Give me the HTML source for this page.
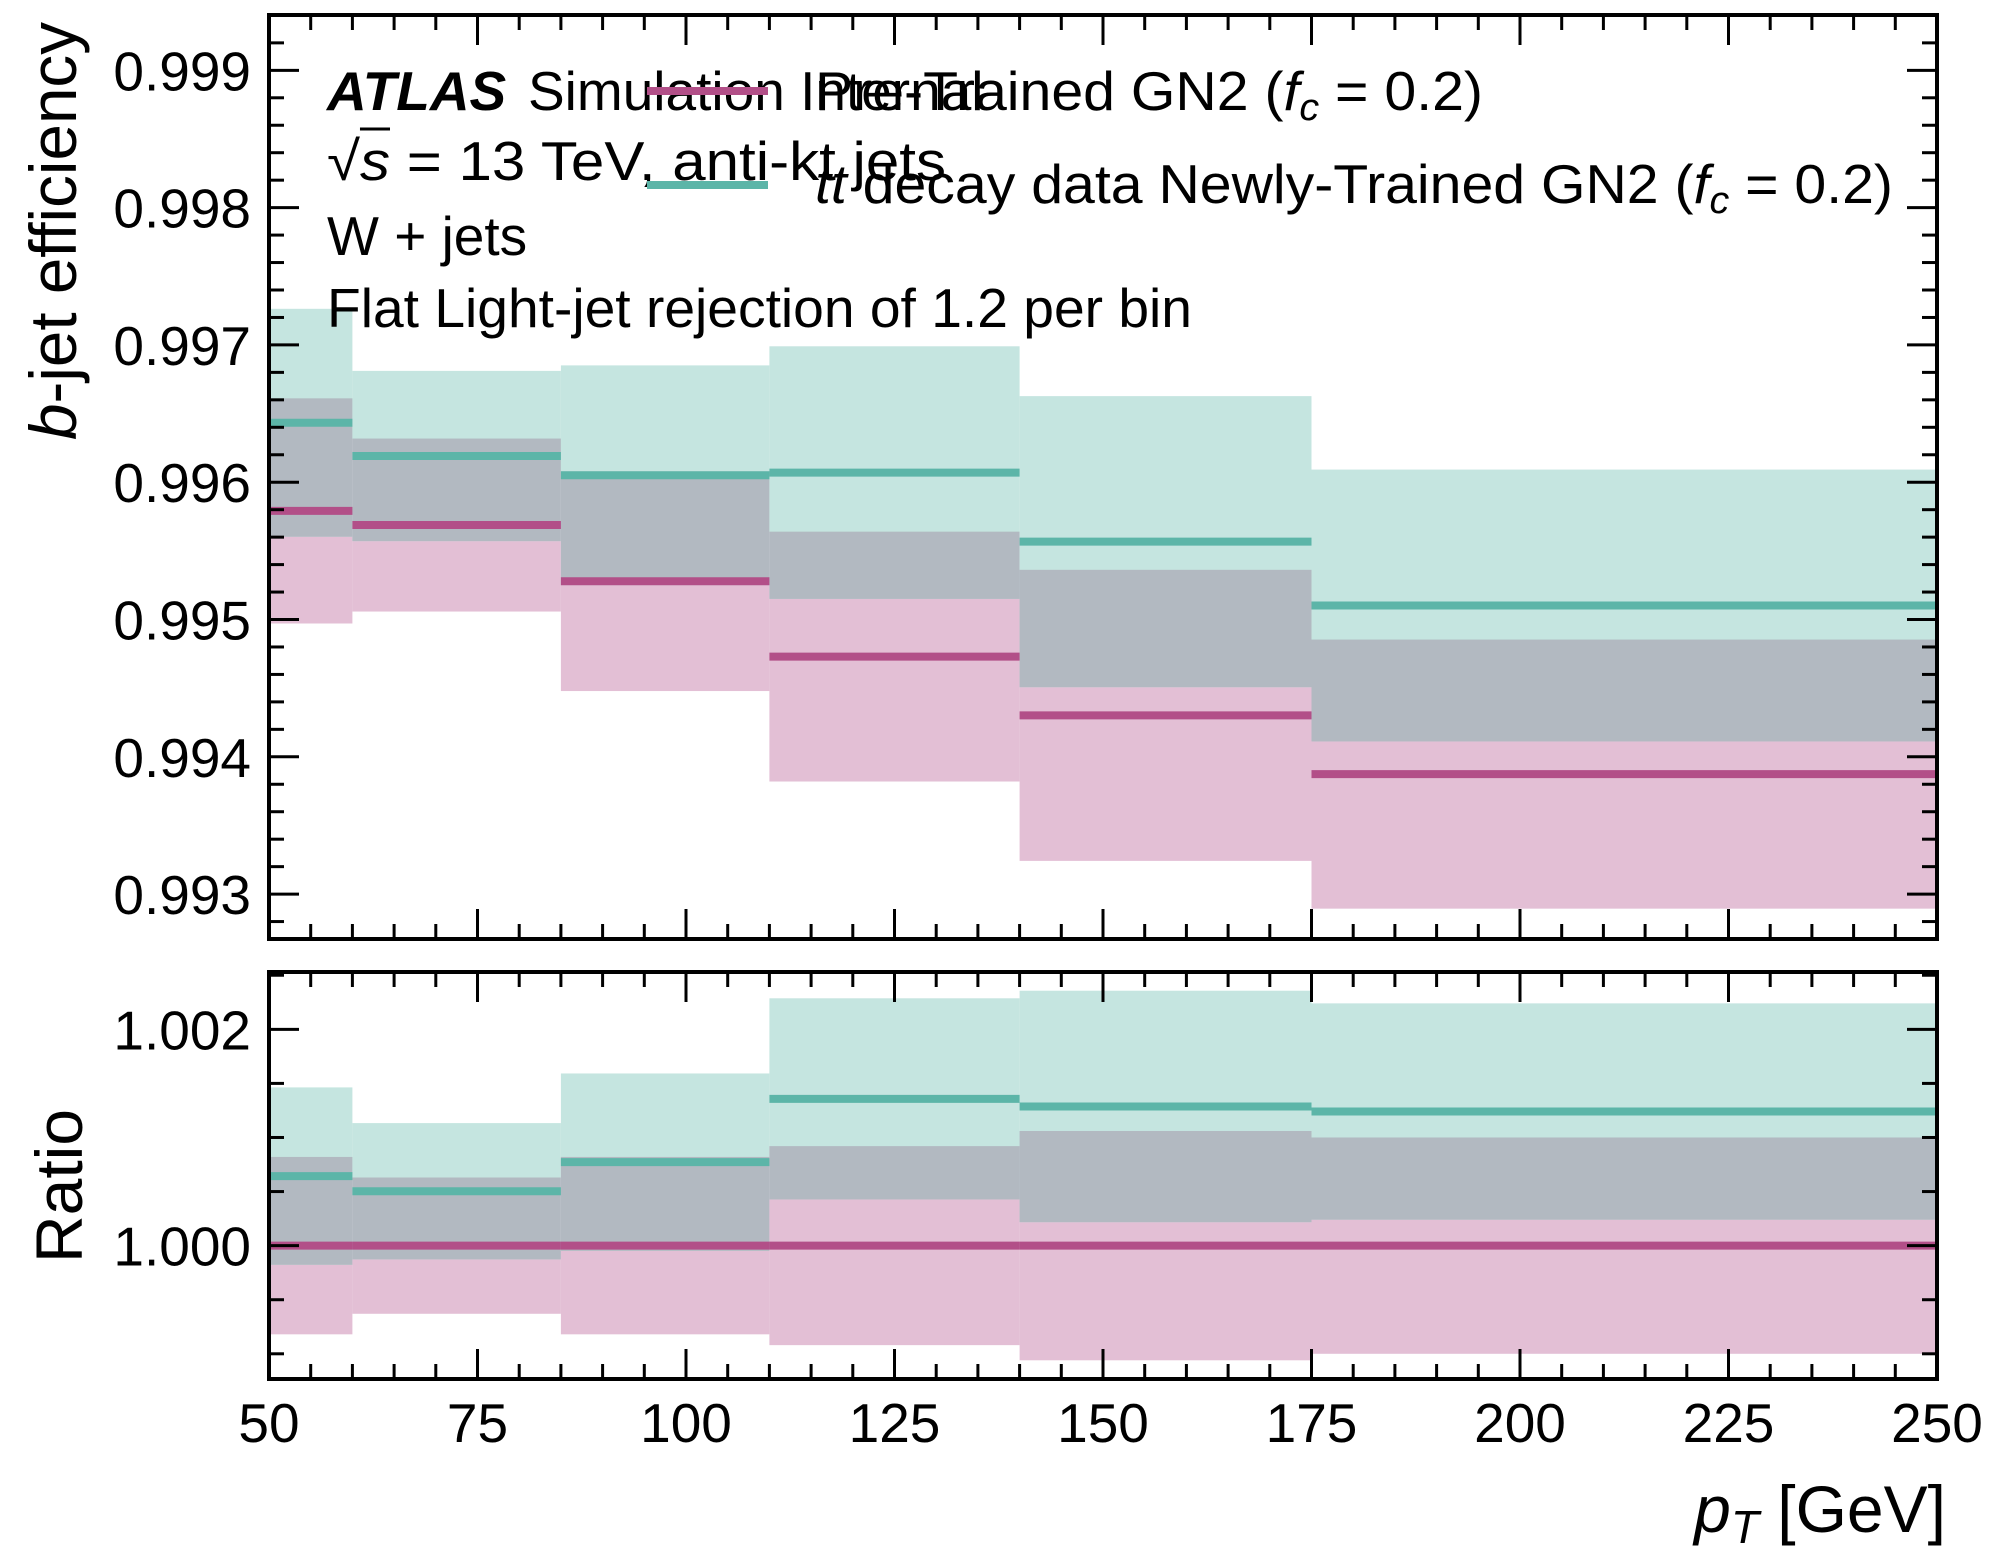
<!DOCTYPE html>
<html><head><meta charset="utf-8"><style>
html,body{margin:0;padding:0;background:#fff;}
svg{display:block;font-family:"Liberation Sans",sans-serif;}
</style></head><body>
<svg id="chart" width="2000" height="1560" viewBox="0 0 2000 1560">
<g id="top-bands"></g>
<g id="ratio-bands"></g>
<g id="axes"></g>
<g font-size="55">
<text x="327" y="110" font-weight="bold" font-style="italic">ATLAS</text>
<text x="528" y="110">Simulation Internal</text>
<text x="327" y="180" textLength="619" lengthAdjust="spacingAndGlyphs">√<tspan font-style="italic" text-decoration="overline">s</tspan> = 13 TeV, anti-kt jets</text>
<text x="327" y="255">W + jets</text>
<text x="327" y="327" textLength="865" lengthAdjust="spacingAndGlyphs">Flat Light-jet rejection of 1.2 per bin</text>
</g>
<g font-size="55">
<line x1="647" x2="768" y1="91" y2="91" stroke="#b24f88" stroke-width="8"/>
<text x="815" y="110" textLength="668" lengthAdjust="spacingAndGlyphs">Pre-Trained GN2 (<tspan font-style="italic">f<tspan font-size="38" dy="10">c</tspan></tspan><tspan dy="-10"> = 0.2)</tspan></text>
<line x1="647" x2="768" y1="185" y2="185" stroke="#5cb5a8" stroke-width="8"/>
<text x="815" y="203" textLength="1078" lengthAdjust="spacingAndGlyphs"><tspan font-style="italic">tt</tspan> decay data Newly-Trained GN2 (<tspan font-style="italic">f<tspan font-size="38" dy="10">c</tspan></tspan><tspan dy="-10"> = 0.2)</tspan></text>
</g>
<text transform="translate(76,22) rotate(-90)" text-anchor="end" font-size="66" textLength="418" lengthAdjust="spacingAndGlyphs"><tspan font-style="italic">b</tspan>-jet efficiency</text>
<text transform="translate(82,1186) rotate(-90)" text-anchor="middle" font-size="66">Ratio</text>
<text x="1946" y="1532" text-anchor="end" font-size="66"><tspan font-style="italic">p<tspan font-size="46" dy="11">T</tspan></tspan><tspan dy="-11"> [GeV]</tspan></text>
</svg>
<script>
const binEdges = [50, 60, 85, 110, 140, 175, 250];
const preEff = [0.995791, 0.995688, 0.995279, 0.994730, 0.994302, 0.993874];
const preErr = [0.00082, 0.00063, 0.00080, 0.00091, 0.00106, 0.00098];
const newEff = [0.996433, 0.996191, 0.996051, 0.996070, 0.995567, 0.995102];
const newErr = [0.00083, 0.00062, 0.00080, 0.00092, 0.00106, 0.00099];
const preRatio = [1.0, 1.0, 1.0, 1.0, 1.0, 1.0];
const preRatioErr = [0.00082, 0.00063, 0.00082, 0.00092, 0.00106, 0.00100];
const newRatio = [1.000643, 1.000503, 1.000772, 1.001357, 1.001287, 1.001240];
const newRatioErr = [0.00082, 0.00063, 0.00082, 0.00093, 0.00107, 0.00100];
const xTicks = [50, 75, 100, 125, 150, 175, 200, 225, 250];
const yTicksTop = [0.993, 0.994, 0.995, 0.996, 0.997, 0.998, 0.999];
const yTicksRatio = [1.000, 1.002];

const NS = "http://www.w3.org/2000/svg";
const L = 269, R = 1937;
const TOP = {t: 15, b: 939, min: 0.992673, max: 0.999403};
const RAT = {t: 972, b: 1379, min: 0.998767, max: 1.00253};
function x(v){ return L + (v - 50) / 200 * (R - L); }
function yP(p, v){ return p.b - (v - p.min) / (p.max - p.min) * (p.b - p.t); }
function mk(tag, attrs, parent){
  const e = document.createElementNS(NS, tag);
  for (const k in attrs) e.setAttribute(k, attrs[k]);
  parent.appendChild(e); return e;
}
const C = {pinkBand:"#e3bfd5", tealBand:"#c5e5e0", grey:"#b2b9c1", pink:"#b24f88", teal:"#5cb5a8"};

function drawPanel(p, g, pv, pe, nv, ne, tag){
  for (let i = 0; i < pv.length; i++){
    const x0 = x(binEdges[i]), x1 = x(binEdges[i+1]);
    const pu = Math.min(pv[i]+pe[i], p.max), pl = Math.max(pv[i]-pe[i], p.min);
    const nu = Math.min(nv[i]+ne[i], p.max), nl = Math.max(nv[i]-ne[i], p.min);
    let r = mk("rect", {x:x0, width:x1-x0, y:yP(p,pu), height:yP(p,pl)-yP(p,pu), fill:C.pinkBand}, g);
    
    
    r = mk("rect", {x:x0, width:x1-x0, y:yP(p,nu), height:yP(p,nl)-yP(p,nu), fill:C.tealBand}, g);
    
    
    const ou = Math.min(pu, nu), ol = Math.max(pl, nl);
    if (ou > ol){
      r = mk("rect", {x:x0, width:x1-x0, y:yP(p,ou), height:yP(p,ol)-yP(p,ou), fill:C.grey}, g);
      
      
    }
  }
  for (let i = 0; i < pv.length; i++){
    const x0 = x(binEdges[i]), x1 = x(binEdges[i+1]);
    let l = mk("line", {x1:x0, x2:x1, y1:yP(p,nv[i]), y2:yP(p,nv[i]), stroke:C.teal, "stroke-width":8}, g);
    
    
    l = mk("line", {x1:x0, x2:x1, y1:yP(p,pv[i]), y2:yP(p,pv[i]), stroke:C.pink, "stroke-width":8}, g);
    
    
  }
}
drawPanel(TOP, document.getElementById("top-bands"), preEff, preErr, newEff, newErr, "top");
drawPanel(RAT, document.getElementById("ratio-bands"), preRatio, preRatioErr, newRatio, newRatioErr, "ratio");

const ax = document.getElementById("axes");
function frame(p, yStepMinor, yMajors, labelX){
  const r = mk("rect", {x:L, y:p.t, width:R-L, height:p.b-p.t, fill:"none", stroke:"#000", "stroke-width":4}, ax);
  
  
  for (let v = 50; v <= 250.001; v += 5){
    const isMaj = Math.abs(v % 25) < 0.01;
    const len = isMaj ? 30 : 15, xx = x(v);
    mk("line", {x1:xx, x2:xx, y1:p.b, y2:p.b-len, stroke:"#000", "stroke-width":3}, ax);
    mk("line", {x1:xx, x2:xx, y1:p.t, y2:p.t+len, stroke:"#000", "stroke-width":3}, ax);
  }
  const start = Math.ceil(p.min / yStepMinor - 1e-6);
  for (let k = start; k * yStepMinor <= p.max; k++){
    const v = k * yStepMinor;
    const isMaj = yMajors.some(m => Math.abs(m - v) < 1e-7);
    const len = isMaj ? 30 : 15, yy = yP(p, v);
    mk("line", {x1:L, x2:L+len, y1:yy, y2:yy, stroke:"#000", "stroke-width":3}, ax);
    mk("line", {x1:R, x2:R-len, y1:yy, y2:yy, stroke:"#000", "stroke-width":3}, ax);
  }
  yMajors.forEach(v => {
    const t = mk("text", {x:labelX, y:yP(p,v)+20, "text-anchor":"end", "font-size":55}, ax);
    t.textContent = v.toFixed(3);
    
    
  });
}
frame(TOP, 0.0002, yTicksTop, 251);
frame(RAT, 0.0005, yTicksRatio, 251);
xTicks.forEach(v => {
  const t = mk("text", {x:x(v), y:1442, "text-anchor":"middle", "font-size":55}, ax);
  t.textContent = String(v);
  
  
});
</script>
</body></html>
